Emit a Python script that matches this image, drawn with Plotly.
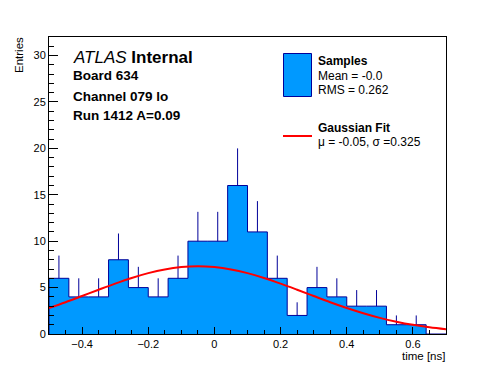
import numpy as np
import plotly.graph_objects as go

# ---------------- data ----------------
BIN_EDGES = [round(-0.5 + 0.06 * i, 2) for i in range(21)]
BIN_COUNTS = [6, 4, 4, 8, 5, 4, 6, 10, 10, 16, 11, 6, 2, 5, 4, 3, 3, 1, 1, 0]

FIT_X = [-0.50, -0.45, -0.40, -0.35, -0.30, -0.25, -0.20, -0.15, -0.10, -0.05,
         0.00, 0.05, 0.10, 0.15, 0.20, 0.25, 0.30, 0.35, 0.40, 0.45, 0.50,
         0.55, 0.60, 0.65, 0.70]
FIT_Y = [2.80, 3.42, 4.09, 4.77, 5.43, 6.04, 6.56, 6.96, 7.21, 7.30,
         7.21, 6.96, 6.56, 6.04, 5.43, 4.77, 4.09, 3.42, 2.80, 2.24, 1.74,
         1.33, 0.99, 0.72, 0.51]

INFO_LINES = ["<i>ATLAS</i> <b>Internal</b>", "<b>Board 634</b>",
              "<b>Channel 079 lo</b>", "<b>Run 1412 A=0.09</b>"]
LEGEND_HIST = ["<b>Samples</b>", "Mean = -0.0", "RMS = 0.262"]
LEGEND_FIT = ["<b>Gaussian Fit</b>", "\u03bc = -0.05, \u03c3 =0.325"]

# ---------------- style ----------------
FILL = "#0099FF"
EDGE = "#000099"
RED = "#FF0000"
FONT = "Liberation Sans, Arial, Helvetica, sans-serif"

W, H = 496, 372
PL, PR, PT, PB = 49, 446, 37, 334


def px(x):
    return (x - PL) / (PR - PL)


def py(y):
    return (PB - y) / (PB - PT)


edges = np.array(BIN_EDGES)
counts = np.array(BIN_COUNTS, dtype=float)
centers = 0.5 * (edges[:-1] + edges[1:])

step_x = np.concatenate([[edges[0]], edges[:-1], [edges[-1]]])
step_y = np.concatenate([[0.0], counts, [counts[-1]]])

fig = go.Figure()

fig.add_trace(go.Scatter(
    x=step_x, y=step_y, mode="lines", line=dict(shape="hv", color=EDGE, width=1),
    fill="tozeroy", fillcolor=FILL, hoverinfo="skip", showlegend=False))

fig.add_trace(go.Scatter(
    x=centers, y=counts, mode="markers", marker=dict(size=1, color="rgba(0,0,0,0)"),
    error_y=dict(type="data", symmetric=False, array=np.sqrt(counts),
                 arrayminus=np.zeros_like(counts), width=0, thickness=1, color=EDGE),
    showlegend=False, hoverinfo="skip"))

fig.add_trace(go.Scatter(
    x=FIT_X, y=FIT_Y, mode="lines", line=dict(color=RED, width=2, shape="spline"),
    showlegend=False, hoverinfo="skip"))

axis_common = dict(showline=True, mirror=True, linecolor="black", linewidth=1,
                   showgrid=False, zeroline=False, ticks="inside", tickcolor="black",
                   tickwidth=1, tickfont=dict(family=FONT, size=11, color="black"))

fig.update_xaxes(range=[-0.5, 0.7], tick0=0, dtick=0.2, ticklen=7,
                 minor=dict(ticks="inside", dtick=0.05, tick0=0, ticklen=4, tickcolor="black"),
                 **axis_common)
fig.update_yaxes(range=[0, 32], tick0=0, dtick=5, ticklen=9,
                 minor=dict(ticks="inside", dtick=1, tick0=0, ticklen=5, tickcolor="black"),
                 **axis_common)

ann = []
info_y = [57, 76, 96, 115]
info_size = [17, 13.5, 13.5, 13.5]
for t, yy, s in zip(INFO_LINES, info_y, info_size):
    ann.append(dict(text=t, x=px(70.5), y=py(yy), xref="paper", yref="paper",
                    xanchor="left", yanchor="middle", showarrow=False,
                    font=dict(family=FONT, size=s, color="black")))
for t, yy in zip(LEGEND_HIST, [61, 76, 90]):
    ann.append(dict(text=t, x=px(316), y=py(yy), xref="paper", yref="paper",
                    xanchor="left", yanchor="middle", showarrow=False,
                    font=dict(family=FONT, size=12, color="black")))
for t, yy in zip(LEGEND_FIT, [128, 142]):
    ann.append(dict(text=t, x=px(316), y=py(yy), xref="paper", yref="paper",
                    xanchor="left", yanchor="middle", showarrow=False,
                    font=dict(family=FONT, size=12, color="black")))
ann.append(dict(text="Entries", x=px(19), y=py(35), xref="paper", yref="paper",
                xanchor="center", yanchor="top", textangle=-90, showarrow=False,
                font=dict(family=FONT, size=11.5, color="black")))
ann.append(dict(text="time [ns]", x=px(447), y=py(356), xref="paper", yref="paper",
                xanchor="right", yanchor="middle", showarrow=False,
                font=dict(family=FONT, size=11.5, color="black")))

shapes = [
    dict(type="rect", xref="paper", yref="paper", x0=px(283.5), x1=px(311.5),
         y0=py(96.5), y1=py(53.5), fillcolor=FILL, line=dict(color=EDGE, width=1)),
    dict(type="line", xref="paper", yref="paper", x0=px(283), x1=px(312),
         y0=py(136), y1=py(136), line=dict(color=RED, width=2)),
]

fig.update_layout(width=W, height=H, margin=dict(l=PL, r=W - PR, t=PT, b=H - PB),
                  paper_bgcolor="white", plot_bgcolor="white", annotations=ann,
                  shapes=shapes, showlegend=False)

fig.write_html("out.html", config={"displayModeBar": False},
               post_script="document.body.style.margin='0';document.body.style.overflow='hidden';")
